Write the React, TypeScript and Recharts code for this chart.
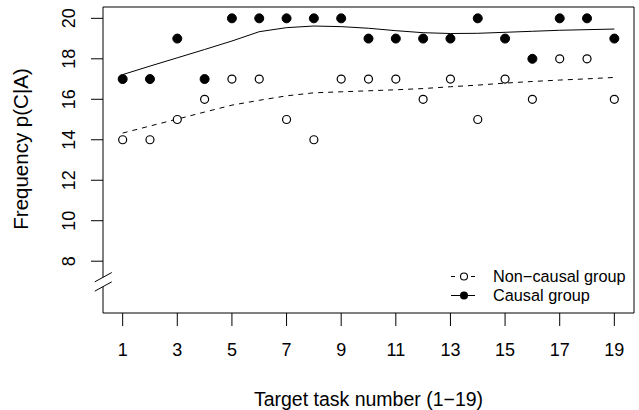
import React from 'react'
import { ComposedChart, Line, XAxis, YAxis, ReferenceLine, Legend } from 'recharts'

const taskNumbers = [1, 2, 3, 4, 5, 6, 7, 8, 9, 10, 11, 12, 13, 14, 15, 16, 17, 18, 19]
const causal = [17, 17, 19, 17, 20, 20, 20, 20, 20, 19, 19, 19, 19, 20, 19, 18, 20, 20, 19]
const nonCausal = [14, 14, 15, 16, 17, 17, 15, 14, 17, 17, 17, 16, 17, 15, 17, 16, 18, 18, 16]
const causalFit = [17.22, 17.64, 18.05, 18.46, 18.88, 19.34, 19.54, 19.62, 19.59, 19.51, 19.39, 19.29, 19.25, 19.26, 19.31, 19.36, 19.41, 19.44, 19.47]
const nonCausalFit = [14.33, 14.68, 15.02, 15.37, 15.71, 15.95, 16.17, 16.32, 16.37, 16.42, 16.47, 16.53, 16.62, 16.7, 16.8, 16.88, 16.95, 17.01, 17.08]
const xTicks = [1, 3, 5, 7, 9, 11, 13, 15, 17, 19]
const yTicks = [8, 10, 12, 14, 16, 18, 20]

const X_MIN = 0.28
const X_MAX = 19.72
const Y_MIN = 5.44
const Y_MAX = 20.56

const FONT = '"Liberation Sans", Arial, Helvetica, sans-serif'

const data = taskNumbers.map((x, i) => ({
  x,
  causal: causal[i],
  nonCausal: nonCausal[i],
  causalFit: causalFit[i],
  nonCausalFit: nonCausalFit[i],
}))

const XTick = (props: any) => {
  const { x, y, payload } = props
  return (
    <text x={x} y={y + 30} textAnchor="middle" fontSize={18} fontFamily={FONT} fill="#000">
      {payload.value}
    </text>
  )
}

const YTick = (props: any) => {
  const { y, payload } = props
  return (
    <text
      x={75}
      y={y}
      transform={`rotate(-90 75 ${y})`}
      textAnchor="middle"
      fontSize={18}
      fontFamily={FONT}
      fill="#000"
    >
      {payload.value}
    </text>
  )
}

const OpenDot = (props: any) => {
  const { cx, cy } = props
  if (cx == null || cy == null) return null
  return <circle cx={cx} cy={cy} r={4} fill="#fff" stroke="#000" strokeWidth={1.2} />
}

const FilledDot = (props: any) => {
  const { cx, cy } = props
  if (cx == null || cy == null) return null
  return <circle cx={cx} cy={cy} r={4.5} fill="#000" stroke="#000" />
}

const renderLegend = () => (
  <div style={{ fontFamily: FONT, fontSize: 16.3, color: '#000' }}>
    <div style={{ display: 'flex', alignItems: 'center', height: 19 }}>
      <svg width={45} height={19}>
        <line x1={3} y1={9.5} x2={7} y2={9.5} stroke="#000" />
        <line x1={23} y1={9.5} x2={27} y2={9.5} stroke="#000" />
        <circle cx={16} cy={9.5} r={3.5} fill="#fff" stroke="#000" strokeWidth={1.1} />
      </svg>
      <span>Non−causal group</span>
    </div>
    <div style={{ display: 'flex', alignItems: 'center', height: 19 }}>
      <svg width={45} height={19}>
        <line x1={3} y1={9.5} x2={27} y2={9.5} stroke="#000" />
        <circle cx={16} cy={9.5} r={4} fill="#000" />
      </svg>
      <span>Causal group</span>
    </div>
  </div>
)

export default function App() {
  return (
    <div style={{ position: 'absolute', left: 0, top: 0, width: 639, height: 410, background: '#fff' }}>
      <ComposedChart width={639} height={410} data={data} margin={{ top: 7, right: 5, left: 0, bottom: 0 }}>
        <XAxis
          dataKey="x"
          type="number"
          domain={[X_MIN, X_MAX]}
          ticks={xTicks}
          allowDataOverflow
          height={97}
          tickSize={13}
          tickMargin={0}
          axisLine={{ stroke: '#000' }}
          tickLine={{ stroke: '#000' }}
          tick={<XTick />}
          label={{
            content: (p: any) => {
              const vb = p.viewBox
              return (
                <text x={vb.x + vb.width / 2} y={vb.y + 93} textAnchor="middle" fontSize={19.5} fontFamily={FONT} fill="#000">
                  Target task number (1−19)
                </text>
              )
            },
          }}
        />
        <YAxis
          type="number"
          domain={[Y_MIN, Y_MAX]}
          ticks={yTicks}
          allowDataOverflow
          width={103}
          tickSize={12}
          tickMargin={0}
          axisLine={false}
          tickLine={{ stroke: '#000' }}
          tick={<YTick />}
          label={{
            content: () => (
              <text x={28} y={149} transform="rotate(-90 28 149)" textAnchor="middle" fontSize={20.5} fontFamily={FONT} fill="#000">
                Frequency p(C|A)
              </text>
            ),
          }}
        />
        <ReferenceLine y={Y_MAX} stroke="#000" ifOverflow="visible" />
        <ReferenceLine x={X_MAX} stroke="#000" ifOverflow="visible" />
        <ReferenceLine segment={[{ x: X_MIN, y: 7.2 }, { x: X_MIN, y: Y_MAX }]} stroke="#000" ifOverflow="visible" />
        <ReferenceLine segment={[{ x: X_MIN, y: Y_MIN }, { x: X_MIN, y: 6.74 }]} stroke="#000" ifOverflow="visible" />
        <ReferenceLine segment={[{ x: -0.02, y: 6.98 }, { x: 0.6, y: 7.44 }]} stroke="#000" ifOverflow="visible" />
        <ReferenceLine segment={[{ x: -0.02, y: 6.52 }, { x: 0.6, y: 6.98 }]} stroke="#000" ifOverflow="visible" />
        <Line dataKey="nonCausalFit" type="linear" stroke="#000" strokeWidth={1} strokeDasharray="5 5" dot={false} isAnimationActive={false} />
        <Line dataKey="causalFit" type="linear" stroke="#000" strokeWidth={1} dot={false} isAnimationActive={false} />
        <Line dataKey="nonCausal" stroke="none" dot={<OpenDot />} activeDot={false} isAnimationActive={false} />
        <Line dataKey="causal" stroke="none" dot={<FilledDot />} activeDot={false} isAnimationActive={false} />
        <Legend
          layout="vertical"
          align="center"
          verticalAlign="middle"
          content={renderLegend}
          wrapperStyle={{ position: 'absolute', left: 448, top: 267, width: 190 }}
        />
      </ComposedChart>
    </div>
  )
}
